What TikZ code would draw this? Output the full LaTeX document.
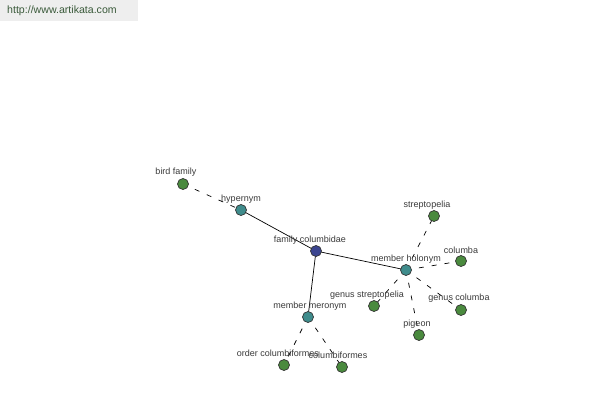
\documentclass[tikz,border=0pt]{standalone}
\usepackage{fontspec}
\setmainfont{Liberation Sans}
\definecolor{leaf}{HTML}{4A8A3E}
\definecolor{mid}{HTML}{3F8C8C}
\definecolor{core}{HTML}{3B4590}
\definecolor{txt}{HTML}{3A3A3A}
\definecolor{hdr}{HTML}{EEEEEE}
\definecolor{hdrtxt}{HTML}{3A5A3A}
\begin{document}
\begin{tikzpicture}[x=1pt,y=-1pt,
  dot/.style={circle,draw=black!80,line width=0.7pt,minimum size=11pt,inner sep=0pt},
  leafdot/.style={dot,fill=leaf},
  middot/.style={dot,fill=mid},
  coredot/.style={dot,fill=core},
  lbl/.style={font=\fontsize{9}{10}\selectfont,text=txt,inner sep=0pt},
  solidedge/.style={draw=black,line width=0.7pt},
  dashedge/.style={draw=black,line width=0.7pt,dash pattern=on 5pt off 8pt}]
\useasboundingbox (0,0) rectangle (600,400);
\fill[white] (0,0) rectangle (600,400);
\fill[hdr] (0,0) rectangle (138,21);
\node[font=\fontsize{10.6}{12}\selectfont,text=hdrtxt,anchor=west,inner sep=0pt] (url) at (7,11) {http://www.artikata.com};
% edges first
\coordinate (bf) at (183,184);
\coordinate (hy) at (241,210);
\coordinate (fc) at (316,251);
\coordinate (mh) at (406,270);
\coordinate (st) at (434,216);
\coordinate (co) at (461,261);
\coordinate (gs) at (374,306);
\coordinate (gc) at (461,310);
\coordinate (pi) at (419,335);
\coordinate (mm) at (308,317);
\coordinate (oc) at (284,365);
\coordinate (cf) at (342,367);
\draw[dashedge] (bf) -- (hy);
\draw[solidedge] (hy) -- (fc);
\draw[solidedge] (fc) -- (mh);
\draw[solidedge] (fc) -- (mm);
\draw[dashedge] (mh) -- (st);
\draw[dashedge] (mh) -- (co);
\draw[dashedge] (mh) -- (gs);
\draw[dashedge] (mh) -- (gc);
\draw[dashedge] (mh) -- (pi);
\draw[dashedge] (mm) -- (oc);
\draw[dashedge] (mm) -- (cf);
% nodes
\node[leafdot] (nbf) at (bf) {};
\node[middot] (nhy) at (hy) {};
\node[coredot] (nfc) at (fc) {};
\node[middot] (nmh) at (mh) {};
\node[leafdot] (nst) at (st) {};
\node[leafdot] (nco) at (co) {};
\node[leafdot] (ngs) at (gs) {};
\node[leafdot] (ngc) at (gc) {};
\node[leafdot] (npi) at (pi) {};
\node[middot] (nmm) at (mm) {};
\node[leafdot] (noc) at (oc) {};
\node[leafdot] (ncf) at (cf) {};
% labels
\node[lbl] (lbf) at (176,172) {bird family};
\node[lbl] (lhy) at (241,199) {hypernym};
\node[lbl] (lfc) at (310,240) {family columbidae};
\node[lbl] (lmh) at (406,259) {member holonym};
\node[lbl] (lst) at (427,205) {streptopelia};
\node[lbl] (lco) at (461,250) {columba};
\node[lbl] (lgs) at (367,295) {genus streptopelia};
\node[lbl] (lgc) at (459,298) {genus columba};
\node[lbl] (lpi) at (417,324) {pigeon};
\node[lbl] (lmm) at (310,306) {member meronym};
\node[lbl] (loc) at (278,353) {order columbiformes};
\node[lbl] (lcf) at (338,355) {columbiformes};
\end{tikzpicture}
\end{document}
